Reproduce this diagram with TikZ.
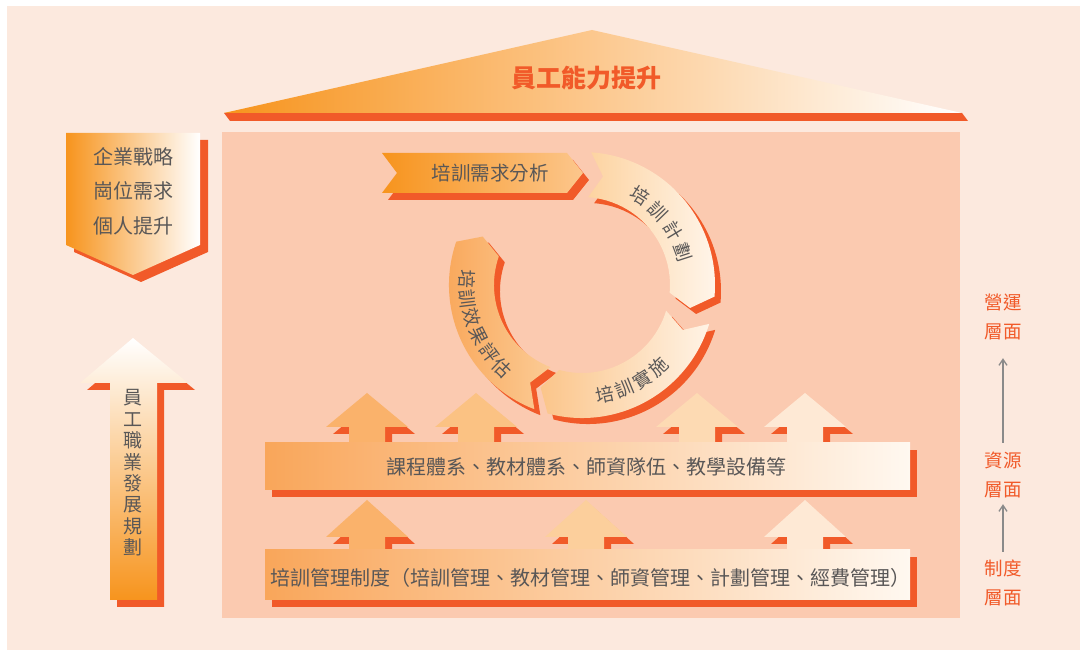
\documentclass[tikz,border=0pt]{standalone}
\usepackage{fontspec}
\newfontfamily\cjk{Noto Sans CJK TC}
\usetikzlibrary{arrows.meta}
\definecolor{bgpeach}{HTML}{FCE9DE}
\definecolor{panel}{HTML}{FBCAB0}
\definecolor{shdorange}{HTML}{F15A29}
\definecolor{orgA}{HTML}{F7941D}
\definecolor{roofMid}{HTML}{FCC88E}
\definecolor{txtgray}{HTML}{595757}
\definecolor{barL}{HTML}{F9A65A}
\definecolor{barR}{HTML}{FFF8F0}
\definecolor{needR}{HTML}{FCC68C}
\definecolor{planL}{HTML}{FDD3A0}
\definecolor{planR}{HTML}{FFF5EA}
\definecolor{doL}{HTML}{FBC58A}
\definecolor{doR}{HTML}{FFF3E5}
\definecolor{evalL}{HTML}{F9A455}
\definecolor{evalR}{HTML}{FBCB95}
\definecolor{upA}{HTML}{FAB26B}
\definecolor{upB}{HTML}{FBC283}
\definecolor{upM}{HTML}{FCCF9C}
\definecolor{upC}{HTML}{FDDAB3}
\definecolor{upD}{HTML}{FEE9D5}
\definecolor{arrgray}{HTML}{8A8A8A}
\tikzset{
  shd/.style={fill=shdorange},
  txt/.style={text=txtgray, inner sep=0pt},
  arcTxt/.style={txt, font=\cjk\fontsize{18.5}{20}\selectfont},
  lvl/.style={text=shdorange, align=center, inner sep=0pt, font=\cjk\fontsize{18.5}{29}\selectfont},
  gArrow/.style={draw=arrgray, line width=1.3pt, -{Straight Barb[length=6pt,width=8pt]}}
}
\begin{document}
\begin{tikzpicture}[x=1pt, y=1pt, font=\cjk\fontsize{19.5}{22}\selectfont]
  \useasboundingbox (0,0) rectangle (1080,650);
  \fill[bgpeach] (7,0) rectangle (1080,644);
  % roof
  \fill[shd] (230,529) -- (968,529) -- (962,537) -- (224,537) -- cycle;
  \shade[left color=orgA, right color=white, middle color=roofMid] (224,537) -- (592,620) -- (962,537) -- cycle;
  \node[text=shdorange, inner sep=0pt, font=\cjk\bfseries\fontsize{25}{28}\selectfont] (roofTxt) at (586,572) {員工能力提升};
  \fill[panel] (222,32) rectangle (960,518);
  % left side
  \fill[shd, shift={(8,-7)}] (66,517) -- (200,517) -- (200,405) -- (133,375) -- (66,405) -- cycle;
  \shade[left color=orgA, right color=white] (66,517) -- (200,517) -- (200,405) -- (133,375) -- (66,405) -- cycle;
  \node[txt, align=center, font=\cjk\fontsize{20}{34.5}\selectfont] (goalTxt) at (133,459) {企業戰略\\崗位需求\\個人提升};
  \fill[shd, shift={(7,-7)}] (133,312) -- (188,267) -- (157,267) -- (157,50) -- (110,50) -- (110,267) -- (80,267) -- cycle;
  \shade[top color=white, bottom color=orgA] (133,312) -- (188,267) -- (157,267) -- (157,50) -- (110,50) -- (110,267) -- (80,267) -- cycle;
  \node[txt, align=center, font=\cjk\fontsize{19}{21.4}\selectfont] (careerTxt) at (133,177) {員\\工\\職\\業\\發\\展\\規\\劃};
  % cycle
  \fill[shd, shift={(6,-7)}] (382,497) -- (567,497) -- (583,477) -- (567,457) -- (382,457) -- (397,477) -- cycle;
  \shade[left color=orgA, right color=needR] (382,497) -- (567,497) -- (583,477) -- (567,457) -- (382,457) -- (397,477) -- cycle;
  \node[txt] (needTxt) at (490,477) {培訓需求分析};
  \begin{scope}[shift={(582,365)}]
    \foreach \a/\b in {86/-5, -17/-105, 249/161}
      \fill[shd, shift={(6,-6)}] (\a:133) arc[start angle=\a, end angle=\b, radius=133] -- ({\b-7}:110.5) -- (\b:88) arc[start angle=\b, end angle=\a, radius=88] -- ({\a-7}:110.5) -- cycle;
    \foreach \a/\b/\lc/\rc in {86/-5/planL/planR, -17/-105/doL/doR, 249/161/evalL/evalR}
      \shade[left color=\lc, right color=\rc] (\a:133) arc[start angle=\a, end angle=\b, radius=133] -- ({\b-7}:110.5) -- (\b:88) arc[start angle=\b, end angle=\a, radius=88] -- ({\a-7}:110.5) -- cycle;
    \foreach \ch/\ang [count=\i] in {培/57, 訓/44, 計/31, 劃/18}
      \node[arcTxt, rotate=\ang-90] (planC\i) at (\ang:106) {\ch};
    \foreach \ch/\ang [count=\i] in {培/-78, 訓/-67.6, 實/-57.2, 施/-46.8}
      \node[arcTxt, rotate=\ang+90] (doC\i) at (\ang:112) {\ch};
    \foreach \ch/\ang [count=\i] in {培/177, 訓/186.8, 效/196.6, 果/206.4, 評/216.2, 估/226}
      \node[arcTxt, rotate=\ang+90] (evalC\i) at (\ang:115) {\ch};
  \end{scope}
  % resources
  \foreach \x/\c in {367/upA, 476/upB, 697/upC, 805/upD}{
    \fill[shd, shift={(7,-7)}] (\x,257) -- (\x+41,223) -- (\x+18,223) -- (\x+18,200) -- (\x-18,200) -- (\x-18,223) -- (\x-41,223) -- cycle;
    \fill[\c] (\x,257) -- (\x+41,223) -- (\x+18,223) -- (\x+18,200) -- (\x-18,200) -- (\x-18,223) -- (\x-41,223) -- cycle;
  }
  \fill[shd, shift={(7,-7)}] (265,160) rectangle (910,207);
  \shade[left color=barL, right color=barR] (265,160) rectangle (910,207);
  \node[txt, font=\cjk\fontsize{20}{22}\selectfont] (resTxt) at (586,183) {課程體系、教材體系、師資隊伍、教學設備等};
  % system
  \foreach \x/\c in {367/upA, 586/upM, 805/upD}{
    \fill[shd, shift={(7,-7)}] (\x,150) -- (\x+41,113) -- (\x+18,113) -- (\x+18,95) -- (\x-18,95) -- (\x-18,113) -- (\x-41,113) -- cycle;
    \fill[\c] (\x,150) -- (\x+41,113) -- (\x+18,113) -- (\x+18,95) -- (\x-18,95) -- (\x-18,113) -- (\x-41,113) -- cycle;
  }
  \fill[shd, shift={(7,-7)}] (265,50) rectangle (910,100);
  \shade[left color=barL, right color=barR] (265,50) rectangle (910,100);
  \node[txt, font=\cjk\fontsize{20}{22}\selectfont] (sysTxt) at (590,72) {培訓管理制度（培訓管理、教材管理、師資管理、計劃管理、經費管理）};
  % levels
  \node[lvl] (lvOps) at (1003,333) {營運\\層面};
  \node[lvl] (lvRes) at (1003,175) {資源\\層面};
  \node[lvl] (lvSys) at (1003,67) {制度\\層面};
  \draw[gArrow, shorten <=9pt, shorten >=18pt] (lvRes) -- (lvOps);
  \draw[gArrow, shorten <=8pt, shorten >=6pt] (lvSys) -- (lvRes);
\end{tikzpicture}
\end{document}
